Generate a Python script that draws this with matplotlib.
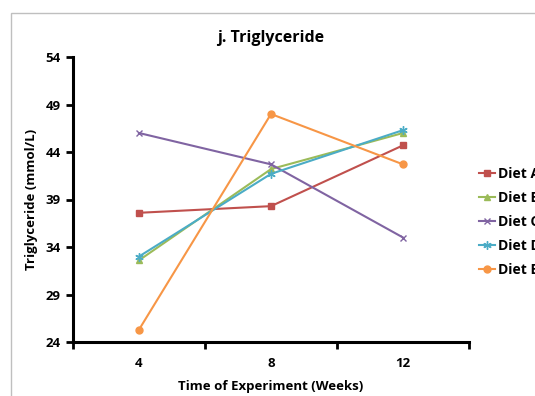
import matplotlib
matplotlib.use('Agg')
import matplotlib.pyplot as plt
from matplotlib.patches import Rectangle

weeks = ['4', '8', '12']
diet_a = [37.6, 38.3, 44.7]
diet_b = [32.6, 42.2, 46.0]
diet_c = [46.0, 42.7, 35.0]
diet_d = [33.0, 41.7, 46.3]
diet_e = [25.3, 48.0, 42.7]
series_names = ['Diet A', 'Diet B', 'Diet C', 'Diet D', 'Diet E']
y_ticks = [24, 29, 34, 39, 44, 49, 54]

plt.rcParams['font.family'] = ['Open Sans', 'DejaVu Sans']
plt.rcParams['font.weight'] = 'bold'

fig = plt.figure(figsize=(5.35, 3.96), dpi=100)
W, H = 535, 396
ax = fig.add_axes([73 / W, 1 - 342 / H, (469 - 73) / W, (342 - 57) / H])

# grey chart-area outline
fig.patches.append(Rectangle((11 / W, -0.1), 1.2, 1 - 13 / H + 0.1,
                             transform=fig.transFigure, fill=False,
                             edgecolor='#BFBFBF', linewidth=1.0))

styles = [
    dict(color='#C0504D', marker='s', ms=5),
    dict(color='#9BBB59', marker='^', ms=5),
    dict(color='#8064A2', marker='x', ms=5, mew=1.0),
    dict(color='#4BACC6', marker=(6, 2, 0), ms=6, mew=1.0),
    dict(color='#F79646', marker='o', ms=5),
]
xs = [0.5, 1.5, 2.5]
for vals, name, st in zip([diet_a, diet_b, diet_c, diet_d, diet_e], series_names, styles):
    ax.plot(xs, vals, label=name, linewidth=1.5, **st)

ax.set_xlim(0, 3)
ax.set_ylim(24, 54)
ax.set_yticks(y_ticks)
ax.set_xticks([0, 1, 2, 3])
ax.set_xticklabels([])
ax.set_xticks(xs, minor=True)
ax.set_xticklabels(weeks, minor=True)
ax.tick_params(axis='x', which='minor', length=0, pad=11, labelsize=9.5)
ax.tick_params(axis='x', which='major', length=5, width=2, direction='out')
ax.tick_params(axis='y', length=5, width=2, direction='out', labelsize=9.5, pad=4)

for side in ['top', 'right']:
    ax.spines[side].set_visible(False)
for side in ['left', 'bottom']:
    ax.spines[side].set_linewidth(2.2)

ax.set_title('j. Triglyceride', fontsize=11.5, fontweight='bold', pad=11)
ax.set_xlabel('Time of Experiment (Weeks)', fontsize=9.5, fontweight='bold', labelpad=7)
ax.set_ylabel('Triglyceride (mmol/L)', fontsize=9.5, fontweight='bold', labelpad=5)

fig.legend(loc='center left', bbox_to_anchor=(479 / W, 1 - 222 / H),
           frameon=False, fontsize=10, handlelength=1.15, handletextpad=0.2,
           labelspacing=0.72, borderaxespad=0, borderpad=0)

fig.savefig('out.png', dpi=100)
